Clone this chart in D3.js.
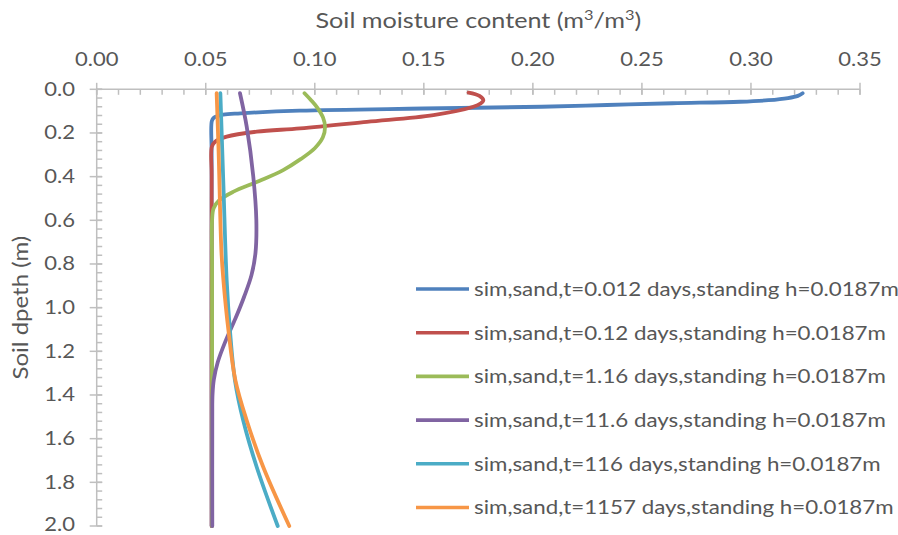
<!DOCTYPE html>
<html>
<head>
<meta charset="utf-8">
<script src="https://cdn.jsdelivr.net/npm/d3@7"></script>
<style>
  html, body { margin: 0; padding: 0; background: #fff; }
  svg { display: block; }
  text { font-family: Lato, "Open Sans", sans-serif; fill: #575757; }
</style>
</head>
<body>
<svg id="chart" width="898" height="535"></svg>
<script>
// ---- data ----
const xTicks = [0.00, 0.05, 0.10, 0.15, 0.20, 0.25, 0.30, 0.35];
const yTicks = [0.0, 0.2, 0.4, 0.6, 0.8, 1.0, 1.2, 1.4, 1.6, 1.8, 2.0];

const seriesNames = [
  "sim,sand,t=0.012 days,standing h=0.0187m",
  "sim,sand,t=0.12 days,standing h=0.0187m",
  "sim,sand,t=1.16 days,standing h=0.0187m",
  "sim,sand,t=11.6 days,standing h=0.0187m",
  "sim,sand,t=116 days,standing h=0.0187m",
  "sim,sand,t=1157 days,standing h=0.0187m"
];
const seriesColors = ["#4F81BD", "#C0504D", "#9BBB59", "#8064A2", "#4BACC6", "#F79646"];

// depth (m) and moisture (m3/m3) for each series
const depth1 = [0.018, 0.030, 0.040, 0.050, 0.057, 0.064, 0.072, 0.080, 0.088, 0.098, 0.110, 0.116, 0.130, 0.145, 0.30, 2.0];
const theta1 = [0.3237, 0.3215, 0.3170, 0.3080, 0.2950, 0.2640, 0.2340, 0.2040, 0.1500, 0.0930, 0.0660, 0.0580, 0.0537, 0.0528, 0.0527, 0.0527];

const depth2 = [0.015, 0.030, 0.050, 0.065, 0.080, 0.118, 0.149, 0.179, 0.194, 0.217, 0.240, 0.263, 0.40, 2.0];
const theta2 = [0.1705, 0.1755, 0.1773, 0.1760, 0.1727, 0.1544, 0.1239, 0.0933, 0.0734, 0.0596, 0.0543, 0.0528, 0.0527, 0.0527];

const depth3 = [0.018, 0.050, 0.085, 0.130, 0.172, 0.220, 0.270, 0.320, 0.370, 0.420, 0.470, 0.510, 0.545, 0.600, 0.80, 2.0];
const theta3 = [0.0953, 0.0983, 0.1012, 0.1038, 0.1047, 0.1037, 0.1000, 0.0935, 0.0855, 0.0745, 0.0625, 0.0560, 0.0536, 0.0529, 0.0529, 0.0529];

const depth4 = [0.018, 0.172, 0.400, 0.600, 0.750, 0.850, 0.950, 1.050, 1.150, 1.250, 1.330, 1.400, 1.500, 2.0];
const theta4 = [0.0657, 0.0688, 0.0718, 0.0732, 0.0728, 0.0710, 0.0676, 0.0636, 0.0592, 0.0555, 0.0537, 0.0531, 0.0530, 0.0530];

const depth5 = [0.018, 0.439, 0.875, 1.104, 1.333, 1.517, 1.731, 2.0];
const theta5 = [0.0567, 0.0581, 0.0596, 0.0611, 0.0634, 0.0672, 0.0734, 0.0830];

const depth6 = [0.018, 0.286, 0.745, 0.875, 1.104, 1.333, 1.517, 1.731, 2.0];
const theta6 = [0.0550, 0.0559, 0.0572, 0.0581, 0.0604, 0.0636, 0.0688, 0.0764, 0.0883];

const depths = [depth1, depth2, depth3, depth4, depth5, depth6];
const thetas = [theta1, theta2, theta3, theta4, theta5, theta6];

// ---- layout ----
const svg = d3.select("#chart");
const pLeft = 96.7, pRight = 860, pTop = 89.3, pBottom = 526;
const axisColor = "#BFBFBF";
const FS = 19.5;

const x = d3.scaleLinear().domain([0, 0.35]).range([pLeft, pRight]);
const y = d3.scaleLinear().domain([0, 2.0]).range([pTop, pBottom]);

// top x axis: major ticks cross, minor inside
const gx = svg.append("g").attr("transform", `translate(0,${pTop})`);
gx.append("line").attr("x1", pLeft).attr("x2", pRight).attr("stroke", axisColor).attr("stroke-width", 1.5);
const xMinor = d3.range(0, 35.5, 1).map(d => d / 100);
gx.selectAll("line.minor").data(xMinor).join("line").attr("class", "minor")
  .attr("x1", d => x(d)).attr("x2", d => x(d)).attr("y1", 0).attr("y2", 5.5)
  .attr("stroke", axisColor).attr("stroke-width", 1.5);
gx.selectAll("line.major").data(xTicks).join("line").attr("class", "major")
  .attr("x1", d => x(d)).attr("x2", d => x(d)).attr("y1", -6.5).attr("y2", 5.5)
  .attr("stroke", axisColor).attr("stroke-width", 1.5);

// left y axis
const gy = svg.append("g").attr("transform", `translate(${pLeft},0)`);
gy.append("line").attr("y1", pTop).attr("y2", pBottom).attr("stroke", axisColor).attr("stroke-width", 1.5);
const yMinor = d3.range(0, 50.5, 1).map(d => d * 0.04);
gy.selectAll("line.minor").data(yMinor).join("line").attr("class", "minor")
  .attr("y1", d => y(d)).attr("y2", d => y(d)).attr("x1", 0).attr("x2", 5.5)
  .attr("stroke", axisColor).attr("stroke-width", 1.5);
gy.selectAll("line.major").data(yTicks).join("line").attr("class", "major")
  .attr("y1", d => y(d)).attr("y2", d => y(d)).attr("x1", -7).attr("x2", 5.5)
  .attr("stroke", axisColor).attr("stroke-width", 1.5);

// ---- lines ----
const line = d3.line().x(d => x(d[1])).y(d => y(d[0])).curve(d3.curveCatmullRom.alpha(0.5));
const seriesData = depths.map((ds, i) => ds.map((dv, j) => [dv, thetas[i][j]]));
svg.append("g").selectAll("path").data(seriesData).join("path")
  .attr("d", line).attr("fill", "none")
  .attr("stroke", (d, i) => seriesColors[i]).attr("stroke-width", 3.8)
  .attr("stroke-linecap", "round").attr("stroke-linejoin", "round");

// ---- texts (horizontally stretched like the reference) ----
const SX = 1.13;
function stretchText(sel, px, py, sx) {
  sel.attr("transform", `translate(${px},${py}) scale(${sx},1)`);
}

svg.append("g").selectAll("text").data(xTicks).join("text")
  .attr("text-anchor", "middle").attr("font-size", FS)
  .text(d => d.toFixed(2))
  .each(function (d) { stretchText(d3.select(this), x(d), 66, SX); });

svg.append("g").selectAll("text").data(yTicks).join("text")
  .attr("text-anchor", "end").attr("font-size", FS).attr("dy", "0.33em")
  .text(d => d.toFixed(1))
  .each(function (d) { stretchText(d3.select(this), 75, Math.min(y(d), 525), SX); });

const TFS = 21;
const title = svg.append("text").attr("text-anchor", "middle").attr("font-size", TFS)
  .attr("transform", `translate(${(pLeft + pRight) / 2},28) scale(1.2,1)`);
title.append("tspan").text("Soil moisture content (m");
title.append("tspan").attr("font-size", TFS * 0.65).attr("dy", -8).text("3");
title.append("tspan").attr("dy", 8).text("/m");
title.append("tspan").attr("font-size", TFS * 0.65).attr("dy", -8).text("3");
title.append("tspan").attr("dy", 8).text(")");

svg.append("text").attr("text-anchor", "middle").attr("font-size", 20.5)
  .attr("transform", `translate(28,${(pTop + pBottom) / 2}) rotate(-90) scale(1.17,1)`)
  .text("Soil dpeth (m)");

// ---- legend ----
const legY0 = 289, legStep = 43.7;
const leg = svg.append("g");
seriesNames.forEach((name, i) => {
  const ly = legY0 + i * legStep;
  leg.append("line").attr("x1", 416).attr("x2", 469).attr("y1", ly).attr("y2", ly)
    .attr("stroke", seriesColors[i]).attr("stroke-width", 3.6);
  leg.append("text").attr("font-size", FS).attr("dy", "0.35em")
    .attr("transform", `translate(474,${ly}) scale(1.145,1)`)
    .text(name);
});
</script>
</body>
</html>
